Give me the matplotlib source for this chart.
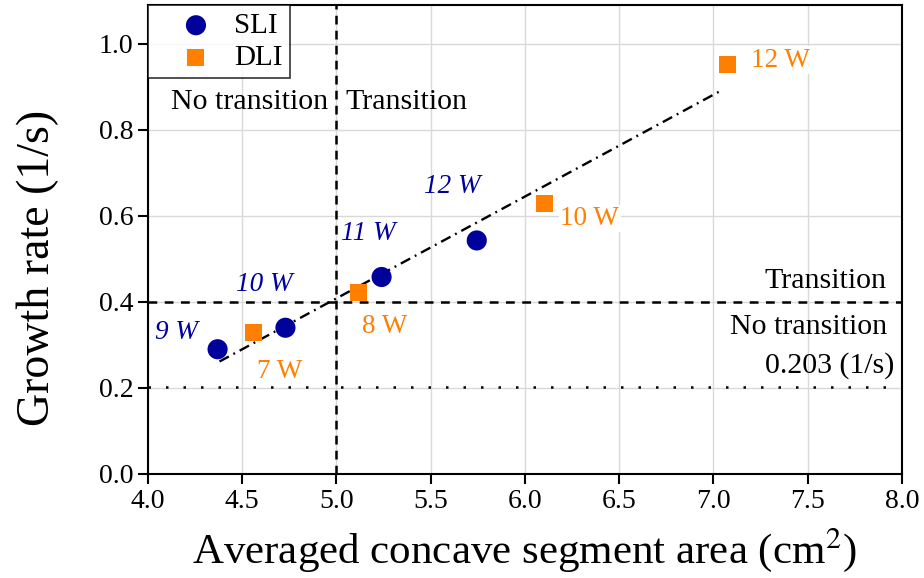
import numpy as np
import matplotlib.pyplot as plt

plt.rcParams['font.family'] = ['Liberation Serif', 'DejaVu Serif']
plt.rcParams['mathtext.fontset'] = 'stix'

# single-layer (SLI) and double-layer (DLI) data
sli_x = [4.37, 4.73, 5.24, 5.745]
sli_y = [0.29, 0.34, 0.458, 0.543]
sli_lbl = ['9 W', '10 W', '11 W', '12 W']

dli_x = [4.56, 5.115, 6.105, 7.077]
dli_y = [0.328, 0.422, 0.629, 0.952]
dli_lbl = ['7 W', '8 W', '10 W', '12 W']

fit_range = [4.38, 7.05]
crit_area = 5.0
crit_rate = 0.4
min_rate = 0.203

blue = '#00009c'
orange = '#ff8000'

fig = plt.figure(figsize=(9.24, 5.78), dpi=100)
ax = fig.add_axes([0.160, 0.180, 0.816, 0.811])

# linear fit through all points
allx = np.array(sli_x + dli_x)
ally = np.array(sli_y + dli_y)
k, b = np.polyfit(allx, ally, 1)
fx = np.array(fit_range)
ax.plot(fx, k * fx + b, color='black', lw=1.7, dashes=[4.5, 2.2, 0.8, 2.2], zorder=2)

ax.axvline(crit_area, color='black', lw=1.8, ls=(0, (3.5, 2.5)), zorder=2)
ax.axhline(crit_rate, color='black', lw=1.8, ls=(0, (3.5, 3)), zorder=2)
ax.axhline(min_rate, color='black', lw=1.8, ls=(0, (1, 6)), zorder=2)

ax.scatter(sli_x, sli_y, s=210, marker='o', color=blue, zorder=4, label='SLI', edgecolors='none')
ax.scatter(dli_x, dli_y, s=150, marker='s', color=orange, zorder=4, label='DLI', edgecolors='none')

# point labels
sli_off = [(-0.22, 0.04), (-0.11, 0.1), (-0.07, 0.1), (-0.13, 0.125)]
for x, y, t, o in zip(sli_x, sli_y, sli_lbl, sli_off):
    ax.text(x + o[0], y + o[1], t, color=blue, fontsize=19.5, style='italic',
            ha='center', va='center', zorder=3)
dli_off = [(0.14, -0.09), (0.14, -0.08), (0.24, -0.035), (0.28, 0.01)]
for x, y, t, o in zip(dli_x, dli_y, dli_lbl, dli_off):
    ax.text(x + o[0], y + o[1], t, color=orange, fontsize=19.5, ha='center', va='center',
            zorder=3, bbox=dict(facecolor='white', edgecolor='none', pad=1))

ax.text(4.955, 0.865, 'No transition', fontsize=21.5, ha='right', va='center')
ax.text(5.05, 0.865, 'Transition', fontsize=21.5, ha='left', va='center')
ax.text(7.92, 0.448, 'Transition', fontsize=21.5, ha='right', va='center')
ax.text(7.92, 0.342, 'No transition', fontsize=21.5, ha='right', va='center')
ax.text(7.96, 0.251, '0.203 (1/s)', fontsize=21.5, ha='right', va='center')

ax.set_xlim(4.0, 8.0)
ax.set_ylim(0.0, 1.09)
ax.set_xticks(np.arange(4.0, 8.01, 0.5))
ax.set_yticks(np.arange(0.0, 1.01, 0.2))
ax.xaxis.set_major_formatter(plt.FormatStrFormatter('%.1f'))
ax.yaxis.set_major_formatter(plt.FormatStrFormatter('%.1f'))
ax.tick_params(labelsize=20, length=7, width=1.5, direction='out')
ax.grid(True, color='#d9d9d9', lw=1, zorder=0)
ax.set_axisbelow(True)
for s in ax.spines.values():
    s.set_linewidth(1.5)

ax.set_xlabel('Averaged concave segment area (cm$^2$)', fontsize=31, labelpad=9)
ax.set_ylabel('Growth rate (1/s)', fontsize=33)
ax.yaxis.set_label_coords(-0.118, 0.44)

leg = ax.legend(loc='upper left', fontsize=21, frameon=True, fancybox=False,
                borderaxespad=0, borderpad=0.25, handlelength=2.8,
                handletextpad=-0.1, labelspacing=0.2)
leg.get_frame().set_edgecolor('black')
leg.get_frame().set_linewidth(1.2)

fig.savefig('out.png', dpi=100)
